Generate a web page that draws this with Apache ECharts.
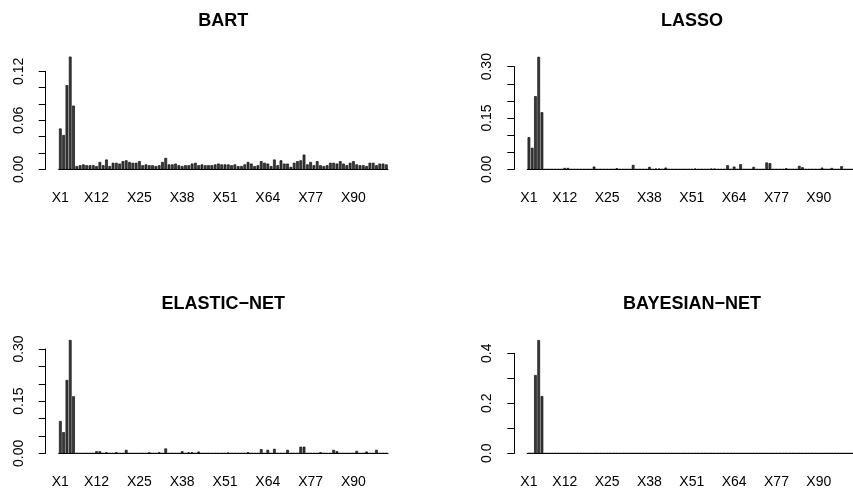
<!DOCTYPE html>
<html>
<head>
<meta charset="utf-8">
<script src="https://cdn.jsdelivr.net/npm/echarts@6/dist/echarts.min.js"></script>
<style>
html,body{margin:0;padding:0;background:#fff;}
#chart{width:853px;height:493px;}
</style>
</head>
<body>
<div id="chart"></div>
<script>
// ---- data ----
const categories = [];
for (let i = 1; i <= 100; i++) categories.push('X' + i);
const shownCategories = ['X1','X12','X25','X38','X51','X64','X77','X90'];

const panelTitles = ['BART', 'LASSO', 'ELASTIC\u2212NET', 'BAYESIAN\u2212NET'];

const bartValues = [
  0.050,0.042,0.103,0.138,0.078, 0.004,0.005,0.006,0.005,0.005,
  0.005,0.004,0.009,0.005,0.012, 0.004,0.008,0.008,0.007,0.010,
  0.011,0.009,0.008,0.008,0.010, 0.005,0.006,0.005,0.005,0.004,
  0.005,0.009,0.014,0.006,0.006, 0.007,0.005,0.004,0.005,0.005,
  0.007,0.008,0.005,0.006,0.005, 0.005,0.005,0.006,0.007,0.006,
  0.006,0.006,0.005,0.006,0.004, 0.004,0.006,0.009,0.007,0.004,
  0.005,0.010,0.008,0.007,0.004, 0.012,0.005,0.011,0.007,0.007,
  0.003,0.008,0.010,0.011,0.018, 0.006,0.009,0.005,0.010,0.005,
  0.004,0.005,0.008,0.008,0.007, 0.010,0.007,0.005,0.008,0.010,
  0.006,0.005,0.005,0.004,0.008, 0.008,0.005,0.007,0.007,0.006
];
const lassoValues = [
  0.094,0.063,0.214,0.329,0.167, 0,0,0,0,0,
  0,0.004,0.004,0,0, 0,0,0,0,0,
  0.008,0,0,0,0, 0,0,0.003,0,0,
  0,0,0.013,0,0, 0,0,0.007,0,0.002,
  0.002,0,0.005,0,0, 0,0,0,0,0,
  0,0.002,0,0,0, 0,0.002,0.002,0,0,
  0,0.012,0,0.008,0, 0.015,0,0,0,0.007,
  0,0,0,0.020,0.018, 0,0,0,0,0.003,
  0,0,0,0.010,0.006, 0,0,0,0,0,
  0.005,0,0,0.004,0, 0,0.009,0,0,0
];
const elasticValues = [
  0.093,0.061,0.211,0.326,0.164, 0,0,0,0,0,
  0,0.006,0.006,0,0.003, 0,0,0.003,0,0,
  0.010,0,0,0,0, 0,0,0.003,0,0,
  0.003,0,0.014,0,0, 0,0,0.006,0,0.003,
  0.003,0,0.005,0,0, 0,0,0,0,0,
  0,0.002,0,0,0, 0,0,0.003,0,0,
  0,0.012,0,0.010,0, 0.013,0,0,0,0.010,
  0,0,0,0.019,0.019, 0,0,0,0,0.003,
  0,0,0,0.010,0.006, 0,0,0,0,0,
  0.007,0,0,0.005,0, 0,0.010,0,0,0
];
const bayesValues = [
  0,0,0.313,0.453,0.229, 0,0,0,0,0,
  0,0,0,0,0, 0,0,0,0,0,
  0,0,0,0,0, 0,0,0,0,0,
  0,0,0,0,0, 0,0,0,0,0,
  0,0,0,0,0, 0,0,0,0,0,
  0,0,0,0,0, 0,0,0,0,0,
  0,0,0,0,0, 0,0,0,0,0,
  0,0,0,0,0, 0,0,0,0,0,
  0,0,0,0,0, 0,0,0,0,0,
  0,0,0,0,0, 0,0,0,0,0
];
const seriesValues = [bartValues, lassoValues, elasticValues, bayesValues];

// y tick settings and shown tick labels
const yMax = [0.12, 0.30, 0.30, 0.4];
const yStep = [0.02, 0.05, 0.05, 0.1];
const yDigits = [2, 2, 2, 1];
const yShownLabels = [
  ['0.00','0.06','0.12'],
  ['0.00','0.15','0.30'],
  ['0.00','0.15','0.30'],
  ['0.0','0.2','0.4']
];

// ---- layout ----
const FONT = '"Liberation Sans", Arial, Helvetica, sans-serif';
const panelLeft = [58.7, 527.3, 58.7, 527.3];
const panelBottom = [169.3, 169.3, 453.3, 453.3];
const panelTopTick = [71.3, 66.7, 349.0, 353.3];
const plotWidth = 329.3;
const titleCenterX = [223.3, 692.0, 223.3, 692.0];
const titleCenterY = [21, 21, 304, 304];

const grids = [], xAxes = [], yAxes = [], series = [], titles = [];
for (let p = 0; p < 4; p++) {
  grids.push({
    left: panelLeft[p], width: plotWidth,
    top: panelTopTick[p], height: panelBottom[p] - panelTopTick[p],
    containLabel: false
  });
  xAxes.push({
    type: 'category', gridIndex: p, data: categories,
    boundaryGap: true,
    axisLine: { show: true, lineStyle: { color: '#000', width: 1 } },
    axisTick: { show: false },
    splitLine: { show: false },
    axisLabel: {
      interval: (idx, val) => shownCategories.includes(val),
      color: '#000', fontFamily: FONT, fontSize: 14, margin: 22
    }
  });
  const shown = yShownLabels[p], dig = yDigits[p];
  yAxes.push({
    type: 'value', gridIndex: p, min: 0, max: yMax[p], interval: yStep[p],
    offset: 13,
    axisLine: { show: true, lineStyle: { color: '#000', width: 1 } },
    axisTick: { show: true, length: 7, lineStyle: { color: '#000', width: 1 } },
    splitLine: { show: false },
    axisLabel: {
      rotate: 90, color: '#000', fontFamily: FONT, fontSize: 14, margin: 20,
      showMinLabel: true, showMaxLabel: true,
      formatter: v => { const s = v.toFixed(dig); return shown.includes(s) ? s : ''; }
    }
  });
  series.push({
    type: 'bar', xAxisIndex: p, yAxisIndex: p, data: seriesValues[p],
    barCategoryGap: '16.67%', clip: false, silent: true,
    itemStyle: { color: '#3a3a3a', borderColor: '#111', borderWidth: 0.7 }
  });
  titles.push({
    text: panelTitles[p], left: titleCenterX[p], top: titleCenterY[p] - 10,
    textAlign: 'center', padding: 0,
    textStyle: { fontFamily: FONT, fontWeight: 'bold', fontSize: 18, color: '#000', lineHeight: 20 }
  });
}

const chart = echarts.init(document.getElementById('chart'), null, { renderer: 'canvas' });
chart.setOption({
  animation: false,
  backgroundColor: '#fff',
  title: titles,
  grid: grids,
  xAxis: xAxes,
  yAxis: yAxes,
  series: series
});
</script>
</body>
</html>
